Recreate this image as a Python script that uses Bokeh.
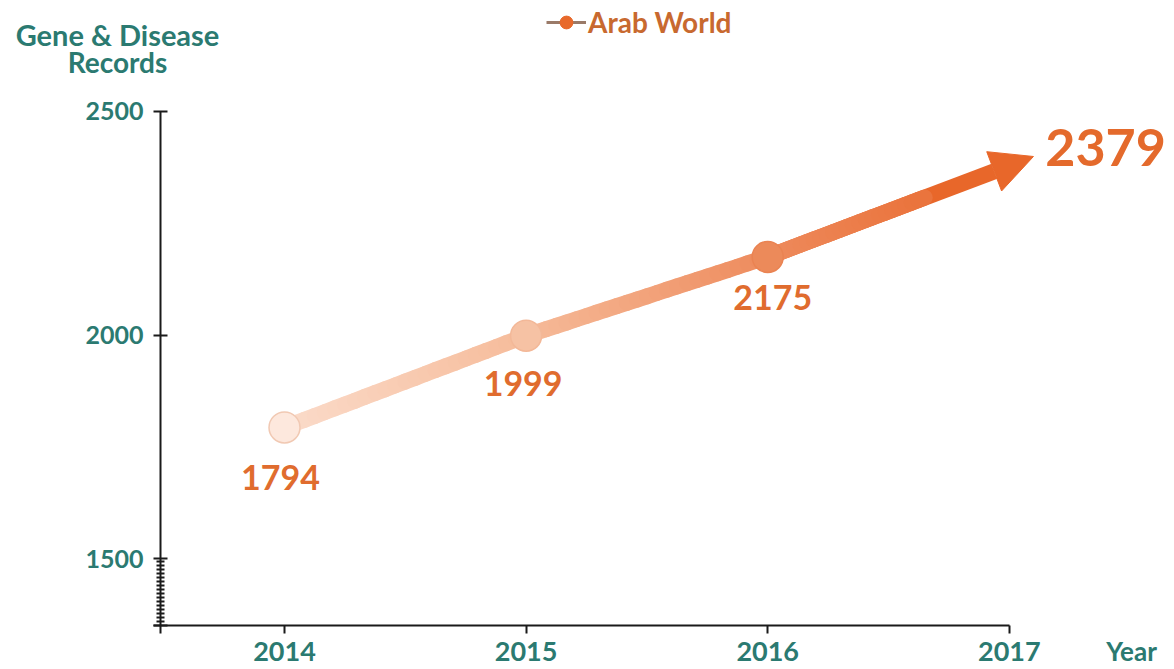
import numpy as np
from bokeh.plotting import figure
from bokeh.models import (Range1d, FixedTicker, Label, Legend, LegendItem,
                          Arrow, NormalHead, ColumnDataSource)
from bokeh.core.properties import value
from bokeh.embed import file_html
from bokeh.resources import INLINE

# ---------------- data ----------------
years = [2014, 2015, 2016]
records = [1794, 1999, 2175]
proj_year = 2017
proj_value = 2379
x_ticks = [2014, 2015, 2016, 2017]
y_ticks = [1500, 2000, 2500]
series_name = "Arab World"
y_title = ["Gene & Disease", "Records"]
x_title = "Year"

# ---------------- style ----------------
FONT = "Lato"
TEAL = "#2b7a71"
ORANGE_TXT = "#e06c2e"
line_colors = ["#fbdccb", "#f6bc9b", "#ee8c5e", "#e8672a"]
marker_fill = ["#fde8dd", "#f6c2a4", "#ec8a5a"]
marker_line = ["#f1c9b3", "#f3b898", "#ea8352"]
marker_sizes = [31, 31, 31]
label_yoff = [50, 48, 41]
label_xoff = [-4, -3, 5]

W, H = 1174, 669
X0, X1 = 2012.8245, 2017.6838      # frame = whole canvas
Y0, Y1 = 1253.0, 2748.0
YAXIS_X = 2013.4867                # where the y axis sits
XAXIS_Y = 1351.4                   # where the x axis sits
XAXIS_START = 2013.458
YAXIS_BOTTOM = 1333.5
ARROW_OVERSHOOT = 0.1

p = figure(width=W, height=H, output_backend="svg", toolbar_location=None,
           x_range=Range1d(X0, X1), y_range=Range1d(Y0, Y1),
           min_border_left=0, min_border_right=0, min_border_top=0, min_border_bottom=0)
p.outline_line_color = None
p.grid.visible = False
p.background_fill_color = "white"


def hex2rgb(h):
    h = h.lstrip("#")
    return np.array([int(h[i:i + 2], 16) for i in (0, 2, 4)], dtype=float)


def rgb2hex(c):
    return "#%02x%02x%02x" % tuple(int(round(v)) for v in c)


# gradient line segments
xs_all = years + [proj_year]
ys_all = records + [proj_value]
seg = dict(x0=[], y0=[], x1=[], y1=[], color=[])
n = 24
for i in range(len(xs_all) - 1):
    c0, c1 = hex2rgb(line_colors[i]), hex2rgb(line_colors[i + 1])
    last = i == len(xs_all) - 2
    fmax = 0.65 if last else 1.0
    for k in range(n):
        f0 = fmax * k / n
        f1 = fmax * (k + 1) / n
        seg["x0"].append(xs_all[i] + (xs_all[i + 1] - xs_all[i]) * f0)
        seg["y0"].append(ys_all[i] + (ys_all[i + 1] - ys_all[i]) * f0)
        seg["x1"].append(xs_all[i] + (xs_all[i + 1] - xs_all[i]) * f1)
        seg["y1"].append(ys_all[i] + (ys_all[i + 1] - ys_all[i]) * f1)
        seg["color"].append(rgb2hex(c0 + (c1 - c0) * (f0 + f1) / 2))

# arrow for projected value
ax_end = proj_year + ARROW_OVERSHOOT
ay_end = proj_value + ARROW_OVERSHOOT * (proj_value - records[-1]) / (proj_year - years[-1])
arrow = Arrow(end=NormalHead(size=42, fill_color=line_colors[-1], line_color=line_colors[-1]),
              x_start=years[-1], y_start=records[-1], x_end=ax_end, y_end=ay_end,
              line_color=line_colors[-1], line_width=16, level="underlay")
p.add_layout(arrow)

p.segment("x0", "y0", "x1", "y1", source=ColumnDataSource(seg), line_color="color",
          line_width=16, line_cap="round")

p.scatter(x=years, y=records, size=marker_sizes, fill_color=marker_fill,
          line_color=marker_line, line_width=1.5)

# value labels
lab_src = ColumnDataSource(dict(x=years, y=records, t=[str(v) for v in records],
                                xo=label_xoff, yo=label_yoff))
p.text(x="x", y="y", text="t", x_offset="xo", y_offset="yo", source=lab_src,
       text_align="center", text_baseline="middle", text_color=ORANGE_TXT,
       text_font=value(FONT), text_font_style="bold", text_font_size="34px")
p.text(x=[proj_year], y=[proj_value], text=[str(proj_value)], x_offset=36, y_offset=-18,
       text_align="left", text_baseline="middle", text_color="#e46a2c",
       text_font=value(FONT), text_font_style="bold", text_font_size="52px")

# axes (drawn at fixed locations inside the canvas)
xa = p.xaxis[0]
xa.fixed_location = XAXIS_Y
xa.ticker = FixedTicker(ticks=x_ticks)
xa.bounds = (XAXIS_START, proj_year)
xa.axis_line_width = 2
xa.axis_line_color = "#1a1a1a"
xa.major_tick_in = 0
xa.major_tick_out = 8
xa.major_tick_line_width = 2
xa.major_tick_line_color = "#1a1a1a"
xa.minor_tick_line_color = None
xa.major_label_text_color = TEAL
xa.major_label_text_font = FONT
xa.major_label_text_font_style = "bold"
xa.major_label_text_font_size = "27px"
xa.major_label_standoff = 9

ya = p.yaxis[0]
ya.fixed_location = YAXIS_X
ya.ticker = FixedTicker(ticks=[XAXIS_Y] + y_ticks, minor_ticks=list(range(1360, 1500, 9)))
ya.bounds = (YAXIS_BOTTOM, y_ticks[-1])
ya.major_label_overrides = {XAXIS_Y: ""}
ya.axis_line_width = 2
ya.axis_line_color = "#1a1a1a"
ya.major_tick_in = 7
ya.major_tick_out = 7
ya.major_tick_line_width = 2
ya.major_tick_line_color = "#1a1a1a"
ya.minor_tick_in = 4
ya.minor_tick_out = 4
ya.minor_tick_line_width = 2
ya.minor_tick_line_color = "#1a1a1a"
ya.major_label_text_color = TEAL
ya.major_label_text_font = FONT
ya.major_label_text_font_style = "bold"
ya.major_label_text_font_size = "25px"
ya.major_label_standoff = 10

# titles
for txt, yy, fs in zip(y_title, [H - 34, H - 61], ["29px", "28px"]):
    p.add_layout(Label(x=117, y=yy, x_units="screen", y_units="screen", text=txt,
                       text_align="center", text_baseline="middle", text_color=TEAL,
                       text_font=FONT, text_font_style="bold", text_font_size=fs))
p.add_layout(Label(x=1131, y=H - 650, x_units="screen", y_units="screen", text=x_title,
                   text_align="center", text_baseline="middle", text_color=TEAL,
                   text_font=FONT, text_font_style="bold", text_font_size="26px"))

# legend (renderers hidden; only their legend glyphs are shown)
lr = p.line(x=years, y=records, line_color="#9a7a68", line_width=3, visible=False)
sr = p.scatter(x=years, y=records, size=13, fill_color="#e8692b", line_color="#e8692b",
               visible=False)
legend = Legend(items=[LegendItem(label=series_name, renderers=[lr, sr])],
                location=(546, 630), orientation="horizontal",
                border_line_alpha=0, background_fill_alpha=0, inactive_fill_alpha=0,
                label_text_font=FONT, label_text_font_style="bold",
                label_text_font_size="28px", label_text_color="#c8692f",
                glyph_width=40, glyph_height=32, padding=0, margin=0, label_standoff=2,
                click_policy="none")
p.add_layout(legend)

open("out.html", "w").write(file_html(p, INLINE))
